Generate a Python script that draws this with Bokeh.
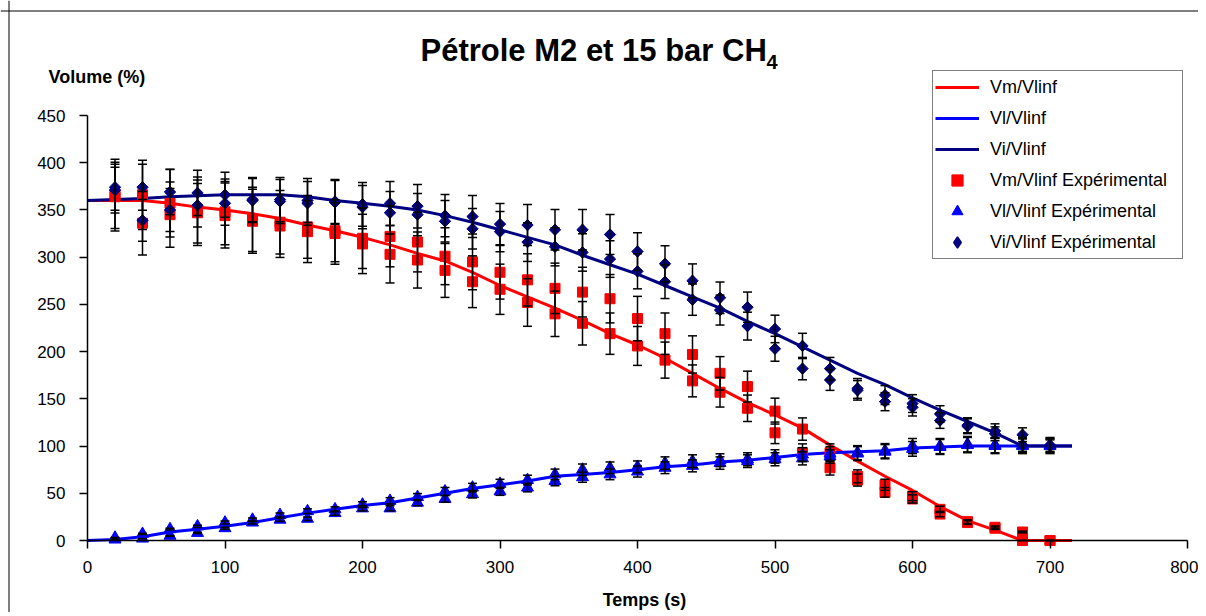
import numpy as np
from bokeh.plotting import figure
from bokeh.models import (Range1d, FixedTicker, Legend, LegendItem, Whisker, TeeHead,
                          ColumnDataSource, Label, Span)
from bokeh.embed import file_html
from bokeh.resources import INLINE

# ---------------- data ----------------
title_main = "Pétrole M2 et 15 bar CH"
title_sub = "4"
y_label = "Volume (%)"
x_label = "Temps (s)"
x_ticks = [0, 100, 200, 300, 400, 500, 600, 700, 800]
y_ticks = [0, 50, 100, 150, 200, 250, 300, 350, 400, 450]

# model curves
t_model = [0, 20, 40, 60, 80, 100, 120, 140, 160, 180, 200, 220, 240, 260, 280, 300, 320, 340,
           360, 380, 400, 420, 440, 460, 480, 500, 520, 540, 560, 580, 600, 620, 640, 660,
           680, 700, 716]
vm_model = [360, 360, 360, 357, 353, 350, 346, 341, 334, 328, 321, 313, 304, 296, 284, 270, 258, 246,
            233, 219, 207, 193, 177, 161, 146, 133, 119, 101, 84, 68, 53, 36, 21, 11,
            0, 0, 0]
vl_model = [0, 1, 4, 9, 12, 15, 19, 24, 29, 33, 37, 40, 45, 50, 55, 59, 63, 68,
            70, 72, 75, 78, 80, 83, 85, 88, 91, 93, 94, 95, 98, 99, 100, 100,
            100, 100, 100]
vi_model = [360, 361, 362, 364, 365, 366, 366, 366, 364, 360, 357, 354, 350, 344, 337, 329, 321, 313,
            302, 292, 282, 270, 258, 246, 232, 219, 205, 191, 177, 165, 151, 138, 126, 114,
            100, 100, 100]

# experimental points (two runs at each time)
t_exp = [20, 40, 60, 80, 100, 120, 140, 160, 180, 200, 220, 240, 260, 280, 300, 320, 340, 360,
         380, 400, 420, 440, 460, 480, 500, 520, 540, 560, 580, 600, 620, 640, 660, 680, 700]
vm_exp_a = [367, 366, 357, 350, 348, 340, 337, 332, 328, 320, 322, 316, 301, 295, 284, 276, 267, 263,
            256, 235, 219, 197, 177, 163, 137, 118, 93, 68, 59, 47, 33, 20, 14, 9, 0]
vm_exp_b = [364, 336, 345, 347, 344, 338, 333, 327, 325, 314, 303, 297, 286, 274, 266, 252, 240, 230,
            219, 206, 191, 169, 157, 140, 114, 93, 77, 64, 51, 44, 28, 19, 13, 0, 0]
vl_exp_a = [3, 7, 12, 15, 19, 22, 27, 31, 33, 38, 42, 46, 52, 56, 60, 64, 70, 75,
            77, 78, 82, 84, 85, 86, 89, 91, 92, 93, 95, 100, 100, 102, 101, 101, 101]
vl_exp_b = [1, 2, 5, 8, 13, 19, 22, 23, 29, 34, 34, 40, 44, 49, 52, 56, 63, 67,
            70, 73, 77, 79, 82, 84, 86, 87, 89, 92, 94, 97, 99, 101, 100, 100, 100]
vi_exp_a = [374, 374, 369, 368, 366, 361, 361, 360, 359, 356, 357, 354, 344, 343, 335, 334, 329, 329,
            324, 306, 293, 275, 257, 247, 224, 206, 182, 161, 154, 145, 134, 122, 116, 112, 101]
vi_exp_b = [371, 339, 350, 355, 357, 360, 359, 357, 358, 353, 347, 345, 338, 330, 327, 316, 311, 305,
            298, 285, 274, 255, 244, 227, 203, 182, 170, 159, 147, 141, 127, 121, 113, 101, 100]

# relative error bar amplitude of each experimental series (%)
vm_err_pct = 10.0
vl_err_pct = 8.0
vi_err_pct = 6.5

series_names = ["Vm/Vlinf", "Vl/Vlinf", "Vi/Vlinf",
                "Vm/Vlinf Expérimental", "Vl/Vlinf Expérimental", "Vi/Vlinf Expérimental"]

# ---------------- layout (picture pixels) ----------------
FONT = "Liberation Sans"
CX, CY = 0, 0                 # canvas position in the picture
W, H = 1198, 612              # canvas size (frame covers the whole canvas)
X0_PX, X1_PX = 87.0, 1187.0   # x of t = 0 and t = 800
Y0_PX, Y1_PX = 540.0, 115.0   # y of v = 0 and v = 450
XMAX, YMAX = 800.0, 450.0

def dx(px):
    return (px - X0_PX) / (X1_PX - X0_PX) * XMAX

def dy(py):
    return (Y0_PX - py) / (Y0_PX - Y1_PX) * YMAX

p = figure(width=W, height=H, output_backend="svg", toolbar_location=None,
           x_range=Range1d(dx(CX), dx(CX + W)), y_range=Range1d(dy(CY + H), dy(CY)),
           min_border=0, min_border_left=0, min_border_right=0,
           min_border_top=0, min_border_bottom=0)
p.title.text = ""
p.outline_line_color = None
p.background_fill_color = "white"
p.border_fill_color = "white"
p.xgrid.visible = False
p.ygrid.visible = False

for ax in (p.xaxis[0], p.yaxis[0]):
    ax.fixed_location = 0
    ax.axis_line_color = "black"
    ax.axis_line_width = 1.5
    ax.major_tick_line_color = "black"
    ax.major_tick_line_width = 1.5
    ax.major_tick_out = 8
    ax.major_tick_in = 0
    ax.minor_tick_line_color = None
    ax.major_label_text_font = FONT
    ax.major_label_text_font_size = "17px"
    ax.major_label_text_color = "black"
p.xaxis.ticker = FixedTicker(ticks=x_ticks)
p.yaxis.ticker = FixedTicker(ticks=y_ticks)
p.xaxis.bounds = (0, XMAX)
p.yaxis.bounds = (0, YMAX)
p.xaxis.major_label_standoff = 12
p.yaxis.major_label_standoff = 14

# outer chart border (left and top edges are inside the window)
p.add_layout(Span(location=dx(8.5), dimension="height", line_color="black", line_width=1))
p.add_layout(Span(location=dy(10.5), dimension="width", line_color="black", line_width=1))

# error bars
t2 = t_exp + t_exp
def bars(a, b, pct):
    v = np.array(a + b, dtype=float)
    return v * (1 + pct / 100), v * (1 - pct / 100)
up_m, lo_m = bars(vm_exp_a, vm_exp_b, vm_err_pct)
up_l, lo_l = bars(vl_exp_a, vl_exp_b, vl_err_pct)
up_i, lo_i = bars(vi_exp_a, vi_exp_b, vi_err_pct)
err_src = ColumnDataSource(dict(t=t2 * 3,
                                up=np.concatenate([up_m, up_l, up_i]),
                                lo=np.concatenate([lo_m, lo_l, lo_i])))

# model lines
r_vm = p.line(t_model, vm_model, line_color="#FF0000", line_width=3)
r_vl = p.line(t_model, vl_model, line_color="#0000FF", line_width=3)
r_vi = p.line(t_model, vi_model, line_color="#000080", line_width=3)

wh = Whisker(source=err_src, base="t", upper="up", lower="lo",
             line_color="black", line_width=1.5, level="glyph",
             upper_head=TeeHead(size=9, line_color="black", line_width=1.5),
             lower_head=TeeHead(size=9, line_color="black", line_width=1.5))
p.add_layout(wh)

# experimental markers
s_vm = p.scatter(t2, vm_exp_a + vm_exp_b, marker="square", size=10,
                 fill_color="#FF0000", line_color="#FF0000", line_width=1)
s_vl = p.scatter(t2, vl_exp_a + vl_exp_b, marker="triangle", size=12,
                 fill_color="#0000FF", line_color="#0000FF", line_width=1)
# diamonds: drawn as a diamond marker (used by the legend) under a 45-degree square
s_vi = p.scatter(t2, vi_exp_a + vi_exp_b, marker="diamond", size=10,
                 fill_color="#000080", line_color="#000080", line_width=1.5)
p.scatter(t2, vi_exp_a + vi_exp_b, marker="square", angle=np.pi / 4, size=8,
          fill_color="#000080", line_color="#000080", line_width=1)

renderers = [r_vm, r_vl, r_vi, s_vm, s_vl, s_vi]
legend = Legend(items=[LegendItem(label=n, renderers=[r]) for n, r in zip(series_names, renderers)],
                location=(932 - CX, CY + H - 259), orientation="vertical",
                border_line_color="black", border_line_width=1, background_fill_color="white",
                background_fill_alpha=1.0, padding=2, spacing=3, margin=0,
                glyph_width=44, glyph_height=28, label_height=28, label_width=190,
                label_standoff=11,
                label_text_font=FONT, label_text_font_size="18px", label_text_color="black")
p.add_layout(legend, "center")

# texts (y = vertical centre of the text)
def text(px, py, s, size, align="left"):
    p.add_layout(Label(x=dx(px), y=dy(py), text=s, text_font=FONT, text_font_size=size,
                       text_font_style="bold", text_align=align, text_baseline="middle",
                       text_color="black"))

text(420, 50, title_main, "31px")
text(766, 61, title_sub, "20px")
text(48, 76, y_label, "18px")
text(644, 599, x_label, "18px", align="center")

open("out.html", "w").write(file_html(p, INLINE))
